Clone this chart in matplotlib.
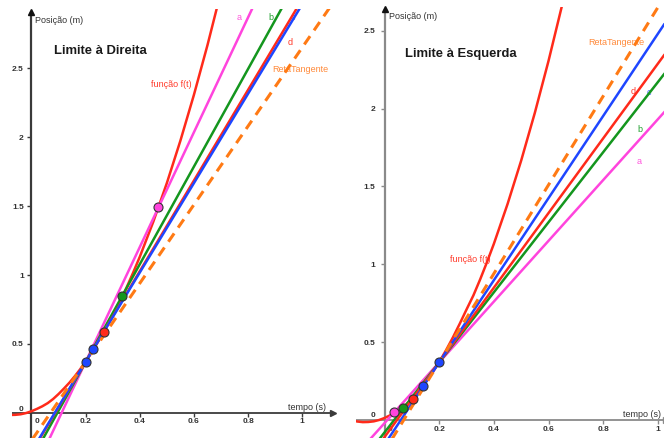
import matplotlib
matplotlib.use("Agg")
import matplotlib.pyplot as plt
import numpy as np

plt.rcParams['font.family'] = ['Liberation Sans', 'DejaVu Sans']

# ---- data ----
curve_t = [-0.115, -0.1, -0.08, -0.06, -0.04, -0.02, 0.0, 0.02, 0.04, 0.06, 0.08, 0.1,
           0.12, 0.14, 0.16, 0.18, 0.2, 0.225, 0.25, 0.275, 0.3, 0.325, 0.35, 0.375,
           0.4, 0.45, 0.5, 0.55, 0.6, 0.65, 0.7]
curve_f = [-0.006, -0.011, -0.015, -0.014, -0.010, -0.001, 0.012, 0.029, 0.048, 0.071, 0.101, 0.137,
           0.177, 0.219, 0.266, 0.317, 0.372, 0.448, 0.530, 0.618, 0.710, 0.800, 0.904, 1.015,
           1.132, 1.387, 1.667, 1.974, 2.307, 2.667, 3.055]

P = (0.2, 0.37)
tangent_slope = 2.85

sec_colors = ['#ff44dd', '#14961e', '#ff2a1a', '#1e46ff']
right_side_t = [0.469, 0.335, 0.266, 0.229]      # Limite à Direita
right_side_f = [1.49, 0.848, 0.587, 0.464]
left_side_t = [0.035, 0.068, 0.102, 0.142]       # Limite à Esquerda
left_side_f = [0.048, 0.073, 0.135, 0.217]

x_ticks = [0.2, 0.4, 0.6, 0.8, 1.0]
x_tick_labels = ['0.2', '0.4', '0.6', '0.8', '1']
y_ticks = [0.5, 1.0, 1.5, 2.0, 2.5]
y_tick_labels = ['0.5', '1', '1.5', '2', '2.5']

W, H = 664, 439
fig = plt.figure(figsize=(W / 100, H / 100), dpi=100)

curve_color = '#ff2a1a'
tan_color = '#ff7a14'


def panel(rect, xlim, ylim, qt, qf, axis_color, title, title_xy, texts, arrow_x, arrow_y,
          ylab_off, xlab_off):
    ax = fig.add_axes(rect)
    ax.set_xlim(*xlim)
    ax.set_ylim(*ylim)
    ax.axis('off')
    # axes
    ax.plot([xlim[0], arrow_x], [0, 0], color=axis_color, lw=1.3, zorder=1, solid_capstyle='butt')
    ax.plot([0, 0], [ylim[0], arrow_y], color=axis_color, lw=1.6, zorder=1, solid_capstyle='butt')
    ax.plot([arrow_x], [0], marker='>', color=axis_color, ms=5, zorder=1, clip_on=False)
    ax.plot([0], [arrow_y], marker='^', color='#111111', ms=5, zorder=1, clip_on=False)
    # ticks
    ax.plot(x_ticks, [0] * len(x_ticks), ls='none', marker=3, ms=3, mew=1, color=axis_color, zorder=1)
    ax.plot([0] * len(y_ticks), y_ticks, ls='none', marker=0, ms=3, mew=1, color=axis_color, zorder=1)
    for v, s in zip(x_ticks, x_tick_labels):
        ax.annotate(s, (v, 0), xytext=(0, -xlab_off), textcoords='offset points', ha='center',
                    va='center', fontsize=6, fontweight='bold', color='#333333', zorder=0)
    for v, s in zip(y_ticks, y_tick_labels):
        ax.annotate(s, (0, v), xytext=(-ylab_off, 0), textcoords='offset points', ha='right',
                    va='center', fontsize=6, fontweight='bold', color='#333333', zorder=0)
    ax.annotate('0', (0, 0), xytext=(4, -xlab_off), textcoords='offset points', ha='center',
                va='center', fontsize=6, fontweight='bold', color='#333333', zorder=0)
    ax.annotate('0', (0, 0), xytext=(-ylab_off, 3.5), textcoords='offset points', ha='right',
                va='center', fontsize=6, fontweight='bold', color='#333333', zorder=0)

    # curve
    ax.plot(curve_t, curve_f, color=curve_color, lw=1.8, zorder=3, solid_joinstyle='round')
    # secant lines
    tt = np.array(xlim)
    for t2, f2, col in zip(qt, qf, sec_colors):
        m = (f2 - P[1]) / (t2 - P[0])
        ax.plot(tt, P[1] + m * (tt - P[0]), color=col, lw=1.8, zorder=4)
    ax.plot(tt, P[1] + tangent_slope * (tt - P[0]), color=tan_color, lw=2.2,
            ls=(0, (3.3, 2.3)), zorder=5)
    # points
    for t2, f2, col in zip(qt, qf, sec_colors):
        ax.plot([t2], [f2], 'o', ms=6.5, mfc=col, mec='#333333', mew=0.8, zorder=6)
    ax.plot([P[0]], [P[1]], 'o', ms=6.5, mfc='#1e46ff', mec='#333333', mew=0.8, zorder=7)

    ax.text(title_xy[0], title_xy[1], title, fontsize=9.4, fontweight='bold', color='#1a1a1a',
            ha='left', va='center', zorder=8)
    for (x, y, s, c) in texts:
        ax.text(x, y, s, fontsize=6.5, color=c, ha='left', va='center', zorder=2)
    return ax


# Left panel: Limite à Direita
panel([12 / W, 0, 323 / W, 429 / H], (-0.072, 1.121), (-0.182, 2.929),
      right_side_t, right_side_f, '#3a3a3a', 'Limite à Direita', (0.083, 2.635),
      [(0.013, 2.856, 'Posição (m)', '#333333'),
       (0.441, 2.392, 'função f(t)', '#ff3a2a'),
       (0.888, 2.50, 'RetaTangente', '#ff8a3a'),
       (0.757, 2.878, 'a', '#ff55dd'),
       (0.876, 2.878, 'b', '#22a030'),
       (0.957, 2.878, 'c', '#4466ff'),
       (0.946, 2.69, 'd', '#ff3a2a'),
       (0.947, 0.043, 'tempo (s)', '#333333')],
      arrow_x=1.112, arrow_y=2.905, ylab_off=5.5, xlab_off=5.6)

# Right panel: Limite à Esquerda
panel([356 / W, 0, 308 / W, 431 / H], (-0.105, 1.023), (-0.117, 2.654),
      left_side_t, left_side_f, '#8a8a8a', 'Limite à Esquerda', (0.074, 2.36),
      [(0.016, 2.597, 'Posição (m)', '#333333'),
       (0.239, 1.04, 'função f(t)', '#ff3a2a'),
       (0.745, 2.429, 'RetaTangente', '#ff8a3a'),
       (0.901, 2.12, 'd', '#ff3a2a'),
       (0.96, 2.108, 'c', '#4466ff'),
       (0.927, 1.87, 'b', '#22a030'),
       (0.923, 1.664, 'a', '#ff55dd'),
       (0.872, 0.043, 'tempo (s)', '#333333')],
      arrow_x=1.03, arrow_y=2.64, ylab_off=6.5, xlab_off=6.2)

fig.savefig('out.png', dpi=100)
